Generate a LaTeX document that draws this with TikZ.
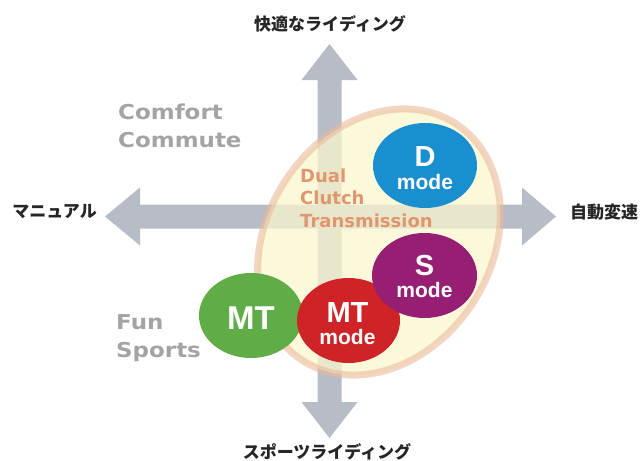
\documentclass[tikz,border=0pt]{standalone}
\usepackage{fontspec}
\setmainfont{DejaVu Sans}
\newfontfamily\jp{Noto Sans CJK JP}
\newfontfamily\lab{DejaVu Sans}[FakeStretch=1.12]
\newfontfamily\dct{DejaVu Sans}
\newfontfamily\hel{Liberation Sans}
\definecolor{arrowgray}{RGB}{184,188,198}
\definecolor{labgray}{RGB}{164,164,164}
\definecolor{dctorange}{RGB}{224,150,110}
\definecolor{ellfill}{RGB}{251,248,206}
\definecolor{ellline}{RGB}{234,186,156}
\definecolor{dblue}{RGB}{26,143,208}
\definecolor{spurple}{RGB}{150,30,115}
\definecolor{mtred}{RGB}{206,36,40}
\definecolor{mtgreen}{RGB}{96,172,70}
\tikzset{
  axisarrow/.style={fill=arrowgray, draw=none},
  jplabel/.style={font=\jp\bfseries\fontsize{17}{20}\selectfont, text=black!85, inner sep=0pt},
  graylabel/.style={font=\lab\bfseries\fontsize{20.5}{28}\selectfont, text=labgray, align=left, inner sep=0pt, anchor=base west},
  modebubble/.style={ellipse, minimum width=104pt, minimum height=85pt, inner sep=0pt, draw=none},
  bigletter/.style={font=\hel\bfseries\fontsize{29}{30}\selectfont, text=white, inner sep=0pt, anchor=base},
  modetext/.style={font=\hel\bfseries\fontsize{21}{22}\selectfont, text=white, inner sep=0pt, anchor=base},
}
\usetikzlibrary{shapes.geometric}
\begin{document}
\begin{tikzpicture}[x=1pt,y=-1pt]
\useasboundingbox[fill=white] (0,0) rectangle (641,461);
% axis arrows
\fill[axisarrow] (105,216.5) -- (140,187.5) -- (140,204.5) -- (522,204.5) -- (522,187.5) -- (556,216.5)
  -- (522,245.5) -- (522,228.5) -- (140,228.5) -- (140,245.5) -- cycle;
\fill[axisarrow] (329.5,44) -- (357.5,80) -- (341.5,80) -- (341.5,402) -- (357.5,402) -- (329.5,438)
  -- (301.5,402) -- (317.5,402) -- (317.5,80) -- (301.5,80) -- cycle;
% DCT ellipse
\node[ellipse, minimum width=224pt, minimum height=282pt, rotate=-33, fill=ellfill, fill opacity=0.72,
  draw=ellline, draw opacity=0.6, line width=7pt] (dct) at (379,242) {};
% axis labels
\node[jplabel] (comfort) at (330,24) {快適なライディング};
\node[jplabel] (manual) at (54.5,212) {マニュアル};
\node[jplabel] (auto) at (604,212) {自動変速};
\node[jplabel] (sport) at (327,452) {スポーツライディング};
% quadrant labels (base anchor = baseline of last line)
\node[graylabel] (cc) at (118,147) {Comfort\\Commute};
\node[graylabel] (fs) at (116,357) {Fun\\Sports};
\node[font=\dct\bfseries\fontsize{18}{22.5}\selectfont, text=dctorange, align=left, inner sep=0pt, anchor=base west] (dcttext) at (300,227) {Dual\\Clutch\\Transmission};
% mode bubbles
\node[modebubble, fill=mtgreen] (mt) at (251,315.5) {};
\node[modebubble, fill=mtred, minimum width=103pt] (mtm) at (348.5,320.5) {};
\node[modebubble, fill=spurple, minimum width=105pt] (sm) at (424.5,275.5) {};
\node[modebubble, fill=dblue] (dm) at (425,165.5) {};
% bubble texts
\node[bigletter, font=\hel\bfseries\fontsize{33}{34}\selectfont] (mtT) at (251,329) {MT};
\node[bigletter] (mtmT) at (347.5,322) {MT};
\node[modetext] (mtmM) at (347.5,344) {mode};
\node[bigletter] (smT) at (424.5,275) {S};
\node[modetext] (smM) at (424.5,297) {mode};
\node[bigletter] (dmT) at (425,166) {D};
\node[modetext] (dmM) at (425,189) {mode};
\end{tikzpicture}
\end{document}
